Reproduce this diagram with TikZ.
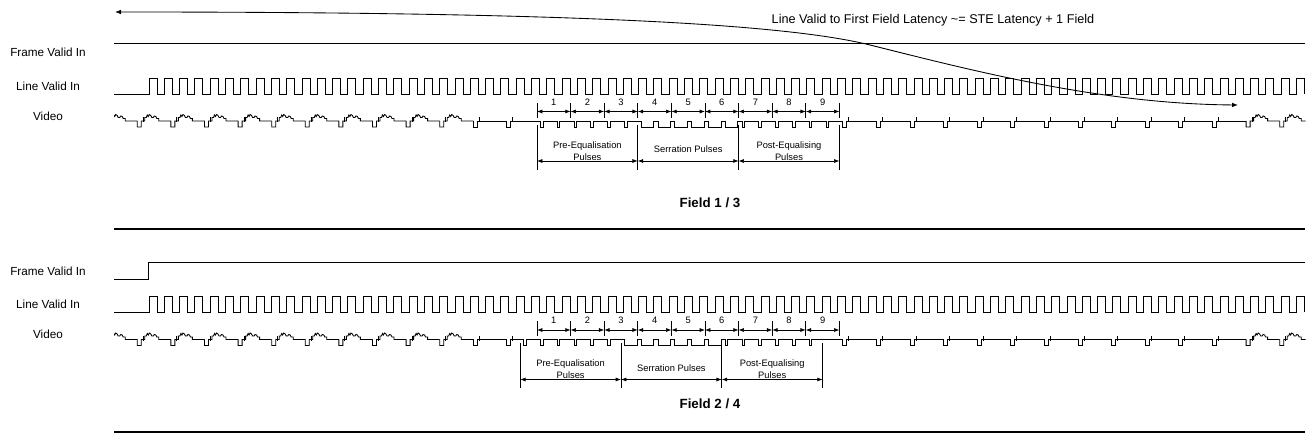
\documentclass[tikz,border=0pt]{standalone}
\usepackage{fontspec}
\setmainfont{Liberation Sans}
\usetikzlibrary{arrows.meta}
\tikzset{
  sig/.style={line width=0.65pt},
  dim/.style={line width=0.5pt,{Latex[length=4pt,width=3pt]}-{Latex[length=4pt,width=3pt]}},
  lbl/.style={font=\fontsize{8.8}{10.5}\selectfont},
  small/.style={font=\fontsize{7}{8.8}\selectfont,align=center,inner sep=0pt},
}
\begin{document}
\begin{tikzpicture}[x=0.75pt,y=-0.75pt]
\useasboundingbox (0,0) rectangle (1314,448);
\coordinate (latL) at (115,12);
\coordinate (latR) at (1238,105);
\draw[sig,{Latex[length=4.5pt,width=3.5pt]}-{Latex[length=4.5pt,width=3.5pt]}] (latL) .. controls (500,12) and (770,20) .. (870,45) .. controls (970,70) and (1100,104) .. (latR);
\node[font=\fontsize{9.5}{11}\selectfont] (lat) at (933,20) {Line Valid to First Field Latency \textasciitilde= STE Latency + 1 Field};
\foreach \p/\dy/\e/\fl/\fy/\sy/\fld in {1/0/0/43.5/202.5/229/{Field 1 / 3},2/218.5/-16.8/60.5/185.5/213.5/{Field 2 / 4}}{
\begin{scope}[shift={(0,\dy)}]
  \node[lbl] (fv\p) at (48,52.5) {Frame Valid In};
  \node[lbl] (lv\p) at (48,86) {Line Valid In};
  \node[lbl] (vid\p) at (48,116) {Video};
  \draw[sig] (114,\fl) -- (148.5,\fl) -- (148.5,43.5) -- (1305,43.5);
  \draw[sig] (114,94) -- (149,94) foreach \k in {1,...,75}{ -- ++(0,-16) -- ++(8,0) -- ++(0,16) -- ++(7.3,0)} -- ++(0,-16) -- ++(8,0) -- ++(0,16);
  \begin{scope}
    \clip (114,100) rectangle (1305.5,135);
    \foreach \s in {103.7,137.3,...,440,1246.1,1279.7}{
      \draw[sig,shift={(\s,0)}] (0,121) -- (0,127) -- (4,127) -- (4,121) -- (7.5,121) -- (7.5,117.5) -- (9,117.5) -- (10,115) -- (11,116.5) -- (12,114.5) -- (13.5,115.5) -- (14.5,117.5) -- (16,117.5) -- (17,116) -- (18.5,116.5) -- (19.5,118.5) -- (21.5,118.5) -- (21.5,121) -- (33.6,121);
      \draw[sig,shift={(\s,0)}] (6,117.5) -- (6,122.5);
    }
    \foreach \s in {473.3,842.9,876.5,...,1213}{
      \draw[sig,shift={(\s,0)}] (0,121) -- (0,127) -- (4,127) -- (4,121) -- (33.6,121);
      \draw[sig,shift={(\s,0)}] (6,117.5) -- (6,122.5);
    }
    \draw[sig] (506.9,121) -- (506.9,127) -- (510.9,127) -- (510.9,121) -- ({540.5+\e},121);
    \draw[sig] (512.9,117.5) -- (512.9,122.5);
    \foreach \j in {0,...,5,12,13,...,17}
      \draw[sig,shift={({540.5+\e+16.8*\j},0)}] (0,121) -- (0,127) -- (2.5,127) -- (2.5,121) -- (16.8,121);
    \foreach \j in {6,...,11}
      \draw[sig,shift={({540.5+\e+16.8*\j},0)}] (0,121) -- (0,127) -- (12.5,127) -- (12.5,121) -- (16.8,121);
    \draw[sig] ({842.9+\e},121) -- (842.9,121);
  \end{scope}
  \foreach \i in {0,...,9}{
    \coordinate (c\p\i) at ({537+33.6*\i},111.5);
    \draw[sig] ({537+33.6*\i},103) -- ({537+33.6*\i},118);
  }
  \foreach \i [evaluate=\i as \j using int(\i+1)] in {0,...,8}{
    \draw[dim] (c\p\i) -- (c\p\j);
    \node[small] (num\p\j) at ({553.8+33.6*\i},102) {\j};
  }
  \foreach \i in {0,...,3}{
    \coordinate (g\p\i) at ({537+\e+100.8*\i},161);
    \draw[sig] ({537+\e+100.8*\i},125) -- ({537+\e+100.8*\i},170);
  }
  \draw[dim] (g\p0) -- (g\p1);
  \draw[dim] (g\p1) -- (g\p2);
  \draw[dim] (g\p2) -- (g\p3);
  \node[small] (pre\p) at ({587.4+\e},151) {Pre-Equalisation\\Pulses};
  \node[small] (ser\p) at ({688.2+\e},149.5) {Serration Pulses};
  \node[small] (post\p) at ({789+\e},151) {Post-Equalising\\Pulses};
  \node[font=\fontsize{10}{12}\selectfont\bfseries] (fld\p) at (710,\fy) {\fld};
  \draw[line width=2.2pt] (114,\sy) -- (1305,\sy);
\end{scope}
}
\end{tikzpicture}
\end{document}
